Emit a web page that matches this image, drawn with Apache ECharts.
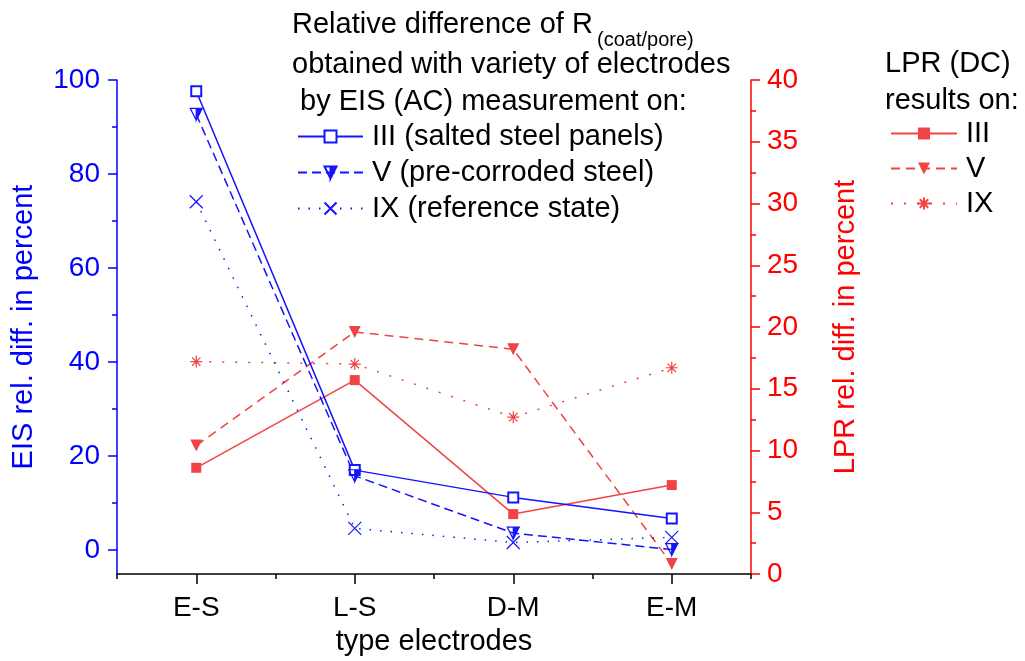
<!DOCTYPE html>
<html>
<head>
<meta charset="utf-8">
<title>EIS vs LPR relative difference</title>
<script src="https://cdn.jsdelivr.net/npm/echarts@6/dist/echarts.min.js"></script>
<style>
  html, body { margin: 0; padding: 0; background: #fff; }
  #chart { width: 1025px; height: 661px; }
</style>
</head>
<body>
<div id="chart"></div>
<script>
// categories (electrode types)
const categories = ['E-S', 'L-S', 'D-M', 'E-M']

// EIS (AC) relative difference, left axis
const eisIII = [97.6, 17.0, 11.2, 6.7]
const eisV = [92.7, 15.8, 3.6, 0.1]
const eisIX = [74.1, 4.6, 1.6, 2.7]

// LPR (DC) relative difference, right axis
const lprIII = [8.6, 15.7, 4.85, 7.2]
const lprV = [10.4, 19.6, 18.2, 0.8]
const lprIX = [17.2, 17.0, 12.7, 16.7]

// tick values
const leftMajor = [0, 20, 40, 60, 80, 100]
const leftMinor = [10, 30, 50, 70, 90]

const blue = '#1414ff'
const red = '#f04444'
const axisBlue = '#0000ff'
const axisRed = '#ff0000'
const font = 'Liberation Sans, Arial, sans-serif'

const crossPath = 'path://M0,0L10,10M10,0L0,10'
const starPath = 'path://M5,0L5,10M0,5L10,5M1.5,1.5L8.5,8.5M8.5,1.5L1.5,8.5'
const halfTriPath = 'path://M5,10L0,0L5,0L0,0L5,10M5,0L10,0L5,10Z'

const chart = echarts.init(document.getElementById('chart'))

const eisNames = ['III (salted steel panels)', 'V (pre-corroded steel)', 'IX (reference state)']
const lprNames = ['III', 'V', 'IX']

const lineSeries = (name, data, yIdx, color, type, symbol, size, itemStyle) => ({
  name,
  type: 'line',
  xAxisIndex: 0,
  yAxisIndex: yIdx,
  data,
  symbol,
  symbolSize: size,
  showSymbol: true,
  lineStyle: { color, width: 1.5, type },
  itemStyle: Object.assign({ color }, itemStyle || {}),
  emphasis: { disabled: true },
  animation: false
})

const option = {
  backgroundColor: '#fff',
  textStyle: { fontFamily: font },
  grid: { left: 117, right: 274, top: 80, bottom: 86, containLabel: false },
  legend: [
    {
      data: eisNames,
      orient: 'vertical',
      left: 292,
      top: 117,
      itemWidth: 65,
      itemHeight: 15,
      itemGap: 7,
      selectedMode: false,
      textStyle: { fontSize: 29, color: '#000', fontFamily: font, padding: [0, 0, 0, 4] }
    },
    {
      data: lprNames,
      orient: 'vertical',
      left: 885,
      top: 114,
      itemWidth: 66,
      itemHeight: 15,
      itemGap: 6,
      selectedMode: false,
      textStyle: { fontSize: 29, color: '#000', fontFamily: font, padding: [0, 0, 0, 4] }
    }
  ],
  graphic: [
    { type: 'text', left: 292, top: 10, style: { text: 'Relative difference of R', font: '29px ' + font, fill: '#000' } },
    { type: 'text', left: 597, top: 30, style: { text: '(coat/pore)', font: '20px ' + font, fill: '#000' } },
    { type: 'text', left: 292, top: 50, style: { text: 'obtained with variety of electrodes', font: '29px ' + font, fill: '#000' } },
    { type: 'text', left: 292, top: 87, style: { text: ' by EIS (AC) measurement on:', font: '29px ' + font, fill: '#000' } },
    { type: 'text', left: 885, top: 49, style: { text: 'LPR (DC)', font: '29px ' + font, fill: '#000' } },
    { type: 'text', left: 885, top: 86, style: { text: 'results on:', font: '29px ' + font, fill: '#000' } }
  ],
  xAxis: [
    {
      type: 'category',
      data: categories,
      boundaryGap: true,
      name: 'type electrodes',
      nameLocation: 'middle',
      nameGap: 53,
      nameTextStyle: { fontSize: 29, color: '#000', fontFamily: font, verticalAlign: 'top' },
      axisLine: { show: true, onZero: false, lineStyle: { color: '#000', width: 1.5 } },
      axisTick: { show: true, inside: false, alignWithLabel: true, length: 10, lineStyle: { color: '#000', width: 1.5 } },
      axisLabel: { fontSize: 28, color: '#000', margin: 20, fontFamily: font },
      splitLine: { show: false }
    },
    {
      type: 'category',
      data: categories,
      boundaryGap: true,
      position: 'bottom',
      axisLine: { show: false, onZero: false },
      axisTick: { show: true, inside: false, alignWithLabel: false, length: 5, lineStyle: { color: '#000', width: 1.5 } },
      axisLabel: { show: false },
      splitLine: { show: false }
    }
  ],
  yAxis: [
    {
      type: 'value',
      position: 'left',
      min: -5.1,
      max: 100,
      name: 'EIS rel. diff. in percent',
      nameLocation: 'middle',
      nameGap: 79,
      nameRotate: 90,
      nameTextStyle: { fontSize: 29, color: axisBlue, fontFamily: font },
      axisLine: { show: true, lineStyle: { color: axisBlue, width: 1.5 } },
      axisTick: { show: true, length: 9, customValues: leftMajor, lineStyle: { color: axisBlue, width: 1.5 } },
      axisLabel: { fontSize: 28, color: axisBlue, margin: 17, customValues: leftMajor, fontFamily: font },
      splitLine: { show: false }
    },
    {
      type: 'value',
      position: 'right',
      min: 0,
      max: 40,
      interval: 5,
      name: 'LPR rel. diff. in percent',
      nameLocation: 'middle',
      nameGap: 109,
      nameRotate: 90,
      nameTextStyle: { fontSize: 29, color: axisRed, fontFamily: font, verticalAlign: 'bottom' },
      axisLine: { show: true, lineStyle: { color: axisRed, width: 1.5 } },
      axisTick: { show: true, length: 9, lineStyle: { color: axisRed, width: 1.5 } },
      minorTick: { show: true, splitNumber: 2, length: 5, lineStyle: { color: axisRed, width: 1.5 } },
      axisLabel: { fontSize: 28, color: axisRed, margin: 16, fontFamily: font },
      splitLine: { show: false },
      minorSplitLine: { show: false }
    },
    {
      type: 'value',
      position: 'left',
      min: -5.1,
      max: 100,
      axisLine: { show: false },
      axisTick: { show: true, length: 5, customValues: leftMinor, lineStyle: { color: axisBlue, width: 1.5 } },
      axisLabel: { show: false },
      splitLine: { show: false }
    }
  ],
  series: [
    lineSeries(lprNames[0], lprIII, 1, red, 'solid', 'rect', 10),
    lineSeries(lprNames[1], lprV, 1, red, [9, 6], 'triangle', 12, {}),
    lineSeries(lprNames[2], lprIX, 1, red, [2, 11], starPath, 12, { borderColor: red, borderWidth: 1.2 }),
    lineSeries(eisNames[0], eisIII, 0, blue, 'solid', 'emptyRect', 10, { borderWidth: 1.2 }),
    lineSeries(eisNames[1], eisV, 0, blue, [9, 5], halfTriPath, 12, { borderColor: blue, borderWidth: 1.2 }),
    lineSeries(eisNames[2], eisIX, 0, blue, [1.5, 9], crossPath, 13, { borderColor: blue, borderWidth: 1.2 })
  ]
}

// the LPR V markers point downward
option.series[1].symbolRotate = 180

chart.setOption(option)
window.addEventListener('resize', () => chart.resize())
</script>
</body>
</html>
